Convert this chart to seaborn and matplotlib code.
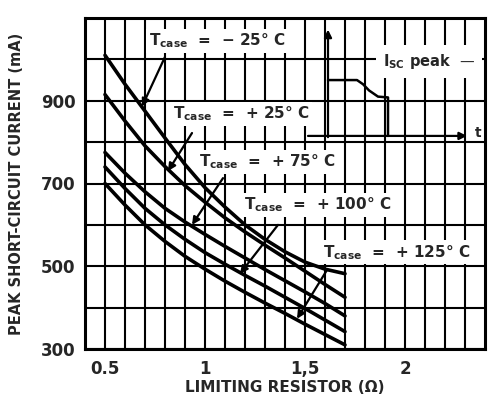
import numpy as np
import pandas as pd
import matplotlib.pyplot as plt
import seaborn as sns

# valeurs (mA) pour chaque température de boîtier
resistance = [0.5, 0.6, 0.7, 0.8, 0.9, 1.0, 1.1, 1.2, 1.3, 1.4, 1.5, 1.6, 1.7]
i_m25 = [1010, 940, 875, 810, 746, 690, 643, 600, 565, 535, 510, 493, 482]
i_p25 = [915, 851, 791, 741, 695, 655, 617, 583, 551, 520, 488, 456, 425]
i_p75 = [775, 725, 680, 640, 607, 577, 548, 520, 492, 465, 438, 410, 380]
i_p100 = [740, 688, 640, 600, 565, 533, 505, 478, 452, 425, 398, 370, 342]
i_p125 = [700, 648, 600, 560, 524, 493, 464, 437, 411, 386, 360, 335, 310]
temps = ["-25", "+25", "+75", "+100", "+125"]

# petit schéma de l'impulsion (encart en haut à droite)
pulse_t = [1.615, 1.76, 1.79, 1.82, 1.865, 1.915, 1.915]
pulse_i = [950, 950, 940, 925, 910, 908, 815]

df = pd.concat([
    pd.DataFrame({"R": resistance, "I": vals, "T": t})
    for vals, t in zip([i_m25, i_p25, i_p75, i_p100, i_p125], temps)
])

sns.set_style("white")
plt.rcParams["font.family"] = ["DejaVu Sans"]
plt.rcParams["font.weight"] = "bold"
plt.rcParams["mathtext.default"] = "bf"

fig = plt.figure(figsize=(4.9, 4.07), dpi=100)
ax = fig.add_axes([85 / 490, 1 - 349 / 407, 400 / 490, 331 / 407])

sns.lineplot(data=df, x="R", y="I", hue="T", palette=["black"] * 5,
             linewidth=2.6, legend=False, sort=False, ax=ax, zorder=3)

ax.set_xlim(0.4, 2.4)
ax.set_ylim(300, 1100)
ax.set_xticks([0.5, 1, 1.5, 2])
ax.set_xticklabels(["0.5", "1", "1,5", "2"])
ax.set_xticks(np.arange(0.5, 2.35, 0.1), minor=True)
ax.set_yticks([300, 500, 700, 900])
ax.set_yticks(np.arange(400, 1100, 100), minor=True)
ax.tick_params(which="both", length=0)
ax.tick_params(axis="x", pad=8, labelsize=12)
ax.tick_params(axis="y", pad=7, labelsize=12)
ax.grid(True, which="both", color="black", linewidth=1.5)
ax.set_axisbelow(True)
for s in ax.spines.values():
    s.set_color("black")
    s.set_linewidth(2.2)

ax.set_xlabel("LIMITING RESISTOR (\u03a9)", fontsize=11, fontweight="bold", labelpad=1)
ax.set_ylabel("PEAK SHORT-CIRCUIT CURRENT (mA)", fontsize=10.5, fontweight="bold", labelpad=12)

box = dict(facecolor="white", edgecolor="none", pad=2)
arrow = dict(arrowstyle="-|>", color="black", lw=1.6, mutation_scale=11, shrinkA=0, shrinkB=0)

deg = "\u00b0"
labels = [
    (r"$\mathbf{T_{case}}$  =  " + "\u2212 25" + deg + " C", 1.06, 1045, (0.80, 1006), (0.685, 886)),
    (r"$\mathbf{T_{case}}$  =  + 25" + deg + " C", 1.18, 868, (0.935, 822), (0.815, 730)),
    (r"$\mathbf{T_{case}}$  =  + 75" + deg + " C", 1.31, 752, (1.09, 713), (0.935, 600)),
    (r"$\mathbf{T_{case}}$  =  + 100" + deg + " C", 1.565, 648, (1.365, 600), (1.175, 482)),
    (r"$\mathbf{T_{case}}$  =  + 125" + deg + " C", 1.96, 534, (1.61, 491), (1.46, 373)),
]
for txt, tx, ty, tail, head in labels:
    ax.annotate("", xy=head, xytext=tail, arrowprops=arrow, zorder=4)
    ax.text(tx, ty, txt, ha="center", va="center", fontsize=11,
            fontweight="bold", bbox=box, zorder=5)

# encart : forme de l'impulsion de courant
ax.text(2.12, 996, r"$\mathbf{I_{SC}}$ peak  " + "\u2014",
        ha="center", va="center", fontsize=10.5, fontweight="bold",
        bbox=dict(facecolor="white", edgecolor="none", pad=5), zorder=5)
ax.annotate("", xy=(1.615, 1072), xytext=(1.615, 812), arrowprops=arrow, zorder=4)
ax.annotate("", xy=(2.31, 815), xytext=(1.515, 815), arrowprops=arrow, zorder=4)
ax.plot(pulse_t, pulse_i, color="black", linewidth=1.8, zorder=4)
ax.text(2.365, 822, "t", ha="center", va="center", fontsize=10, fontweight="bold", zorder=5)

plt.savefig("out.png", dpi=100)
